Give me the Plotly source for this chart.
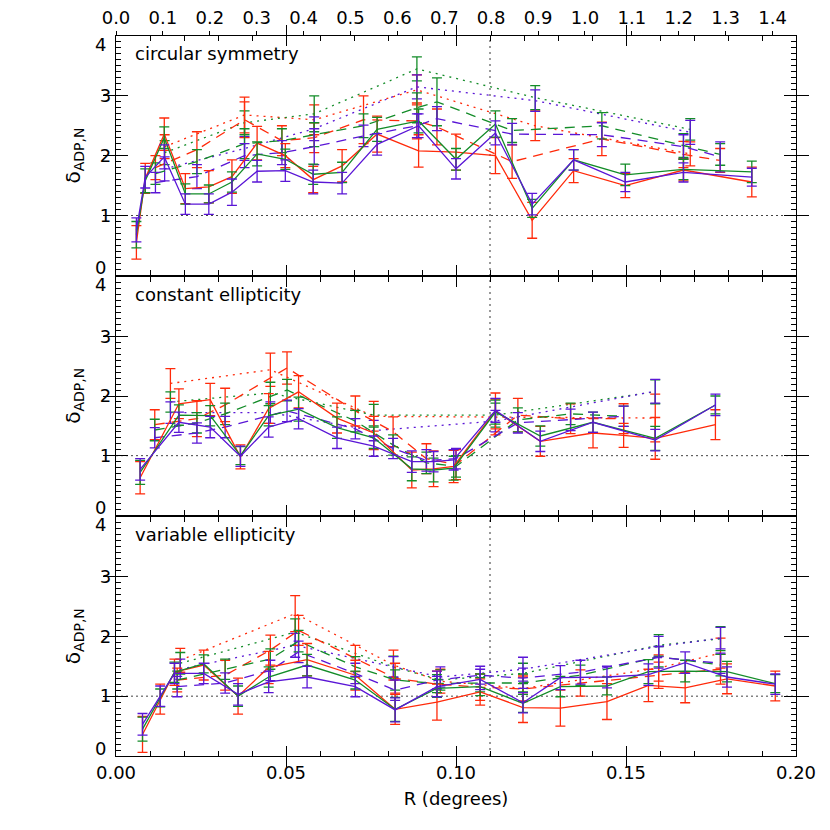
import plotly.graph_objects as go

# kpc per degree (top axis)
KPC_PER_DEG = 7.25

# ---- circular symmetry (top panel) ----
CS_X_SOLID = [0.0060, 0.0086, 0.0142, 0.0204, 0.0273, 0.0341, 0.0415, 0.0498, 0.0580, 0.0665,
              0.0768, 0.0890, 0.1000, 0.1116, 0.1224, 0.1346, 0.1498, 0.1669, 0.1870]
CS_RED_SOLID = [0.55, 1.62, 2.36, 1.45, 1.48, 1.65, 2.21, 2.00, 1.60, 1.83, 2.36, 2.08, 2.06, 2.00, 0.92, 1.75, 1.50, 1.76, 1.56]
CS_GREEN_SOLID = [0.68, 1.58, 2.30, 1.36, 1.36, 1.56, 2.03, 1.94, 1.69, 1.72, 2.44, 2.58, 1.94, 2.53, 1.12, 1.93, 1.68, 1.77, 1.73]
CS_BLUE_SOLID = [0.76, 1.64, 1.98, 1.19, 1.19, 1.39, 1.74, 1.75, 1.56, 1.54, 2.19, 2.50, 1.78, 2.38, 1.19, 1.93, 1.56, 1.72, 1.64]
CS_RED_SOLID_ERR = [0.28, 0.25, 0.27, 0.25, 0.27, 0.28, 0.28, 0.20, 0.22, 0.27, 0.30, 0.27, 0.30, 0.30, 0.30, 0.20, 0.20, 0.18, 0.25]
CS_GREEN_SOLID_ERR = [0.22, 0.20, 0.18, 0.17, 0.15, 0.17, 0.20, 0.17, 0.17, 0.17, 0.20, 0.20, 0.18, 0.22, 0.15, 0.17, 0.18, 0.17, 0.18]
CS_BLUE_SOLID_ERR = [0.20, 0.18, 0.20, 0.17, 0.17, 0.22, 0.18, 0.18, 0.20, 0.18, 0.18, 0.20, 0.17, 0.20, 0.18, 0.17, 0.16, 0.16, 0.15]

CS_X_DASH = [0.0116, 0.0238, 0.0378, 0.0488, 0.0583, 0.0728, 0.0885, 0.0944, 0.1165, 0.1429, 0.1669, 0.1777]
CS_RED_DASH = [1.80, 2.10, 2.60, 2.25, 2.30, 2.60, 2.58, 2.48, 1.90, 2.28, 2.02, 1.92]
CS_GREEN_DASH = [1.70, 1.90, 2.20, 2.25, 2.35, 2.50, 2.80, 2.90, 2.42, 2.50, 2.17, 2.02]
CS_BLUE_DASH = [1.55, 1.65, 2.00, 2.05, 2.15, 2.33, 2.50, 2.62, 2.36, 2.35, 2.15, 1.98]
CS_RED_DASH_ERR = [0.20, 0.30, 0.30, 0.25, 0.25, 0.40, 0.30, 0.30, 0.28, 0.28, 0.22, 0.20]
CS_GREEN_DASH_ERR = [0.18, 0.20, 0.25, 0.20, 0.20, 0.20, 0.25, 0.40, 0.20, 0.22, 0.20, 0.18]
CS_BLUE_DASH_ERR = [0.17, 0.20, 0.20, 0.20, 0.30, 0.18, 0.20, 0.20, 0.18, 0.20, 0.20, 0.25]

CS_X_DOT = [0.0143, 0.0378, 0.0583, 0.0885, 0.1233, 0.1689]
CS_RED_DOT = [2.15, 2.68, 2.60, 3.10, 2.50, 2.03]
CS_GREEN_DOT = [2.05, 2.55, 2.70, 3.45, 2.97, 2.44]
CS_BLUE_DOT = [1.78, 2.12, 2.45, 3.15, 2.92, 2.39]
CS_RED_DOT_ERR = [0.20, 0.30, 0.25, 0.25, 0.25, 0.20]
CS_GREEN_DOT_ERR = [0.20, 0.20, 0.30, 0.20, 0.20, 0.18]
CS_BLUE_DOT_ERR = [0.20, 0.20, 0.20, 0.20, 0.18, 0.20]

# ---- constant ellipticity (middle panel) ----
CE_X_SOLID = [0.0071, 0.0185, 0.0277, 0.0366, 0.0449, 0.0537, 0.0650, 0.0758, 0.0870, 0.0934,
              0.0993, 0.1116, 0.1248, 0.1403, 0.1493, 0.1586, 0.1763]
CE_RED_SOLID = [0.63, 1.87, 1.94, 0.98, 1.79, 2.07, 1.63, 1.38, 0.76, 0.78, 0.82, 1.75, 1.24, 1.38, 1.34, 1.29, 1.52]
CE_GREEN_SOLID = [0.72, 1.68, 1.67, 1.00, 1.67, 1.78, 1.47, 1.30, 0.78, 0.76, 0.79, 1.73, 1.33, 1.56, None, 1.29, 1.85]
CE_BLUE_SOLID = [0.77, 1.56, 1.48, 0.99, 1.48, 1.62, 1.30, 1.16, 0.90, 0.90, 0.93, 1.76, 1.24, 1.56, None, 1.26, 1.85]
CE_RED_SOLID_ERR = [0.27, 0.25, 0.27, 0.20, 0.25, 0.27, 0.25, 0.28, 0.30, 0.30, 0.27, 0.30, 0.25, 0.25, 0.20, 0.35, 0.25]
CE_GREEN_SOLID_ERR = [0.20, 0.17, 0.17, 0.15, 0.17, 0.20, 0.18, 0.18, 0.20, 0.20, 0.20, 0.20, 0.17, 0.17, None, 0.20, 0.15]
CE_BLUE_SOLID_ERR = [0.18, 0.17, 0.18, 0.17, 0.17, 0.17, 0.18, 0.17, 0.18, 0.17, 0.17, 0.20, 0.17, 0.17, None, 0.18, 0.18]

CE_X_DASH = [0.0114, 0.0238, 0.0321, 0.0503, 0.0704, 0.0815, 0.0913, 0.1000, 0.1182, 0.1337, 0.1493]
CE_RED_DASH = [1.52, 1.62, 1.85, 2.47, 1.75, 1.40, 0.95, 0.85, 1.68, 1.62, 1.62]
CE_GREEN_DASH = [1.43, 1.55, 1.70, 2.10, 1.58, 1.18, 0.88, 0.82, 1.60, 1.70, 1.66]
CE_BLUE_DASH = [1.30, 1.38, 1.48, 1.75, 1.45, 1.12, 0.92, 0.95, 1.55, 1.60, 1.66]
CE_RED_DASH_ERR = [0.25, 0.30, 0.28, 0.27, 0.25, 0.25, 0.25, 0.25, 0.28, 0.25, 0.25]
CE_GREEN_DASH_ERR = [0.18, 0.17, 0.18, 0.18, 0.18, 0.17, 0.18, 0.18, 0.20, 0.18, 0.17]
CE_BLUE_DASH_ERR = [0.17, 0.17, 0.18, 0.18, 0.17, 0.17, 0.18, 0.17, 0.17, 0.18, 0.17]

CE_X_DOT = [0.0160, 0.0454, 0.0758, 0.1116, 0.1586]
CE_RED_DOT = [2.21, 2.44, 1.66, 1.65, 1.63]
CE_GREEN_DOT = [1.90, 2.05, 1.68, 1.68, 2.07]
CE_BLUE_DOT = [1.72, 1.72, 1.42, 1.58, 2.08]
CE_RED_DOT_ERR = [0.25, 0.28, 0.25, 0.30, 0.40]
CE_GREEN_DOT_ERR = [0.17, 0.18, 0.18, 0.20, 0.20]
CE_BLUE_DOT_ERR = [0.18, 0.18, 0.17, 0.18, 0.20]

# ---- variable ellipticity (bottom panel) ----
VE_X_SOLID = [0.0078, 0.0130, 0.0172, 0.0258, 0.0359, 0.0449, 0.0562, 0.0704, 0.0821, 0.0944,
              0.1071, 0.1197, 0.1307, 0.1444, 0.1566, 0.1674, 0.1797, 0.1939]
VE_RED_SOLID = [0.36, 0.95, 1.40, 1.52, 1.00, 1.48, 1.61, 1.35, 0.78, 0.90, 1.07, 0.81, 0.80, 0.91, 1.18, 1.14, 1.29, 1.17]
VE_GREEN_SOLID = [0.45, 0.97, 1.40, 1.54, 1.00, 1.32, 1.52, 1.27, 0.78, 1.13, 1.16, 0.88, 1.16, 1.17, 1.41, 1.42, 1.41, 1.21]
VE_BLUE_SOLID = [0.53, 1.00, 1.38, 1.38, 1.03, 1.24, 1.32, 1.16, 0.77, 1.16, 1.28, 0.89, 1.31, 1.32, 1.36, 1.56, 1.32, 1.20]
VE_RED_SOLID_ERR = [0.30, 0.25, 0.22, 0.25, 0.30, 0.27, 0.27, 0.25, 0.25, 0.30, 0.22, 0.25, 0.30, 0.30, 0.27, 0.25, 0.25, 0.25]
VE_GREEN_SOLID_ERR = [0.20, 0.15, 0.17, 0.15, 0.17, 0.17, 0.18, 0.15, 0.20, 0.15, 0.15, 0.15, 0.17, 0.15, 0.20, 0.18, 0.17, 0.15]
VE_BLUE_SOLID_ERR = [0.18, 0.17, 0.17, 0.17, 0.18, 0.18, 0.18, 0.17, 0.20, 0.17, 0.17, 0.17, 0.20, 0.18, 0.18, 0.18, 0.17, 0.17]

VE_X_DASH = [0.0180, 0.0321, 0.0454, 0.0537, 0.0704, 0.0821, 0.0944, 0.1071, 0.1197, 0.1366, 0.1596, 0.1778]
VE_RED_DASH = [1.27, 1.35, 1.77, 2.10, 1.63, 1.30, 1.20, 1.15, 1.12, 1.22, 1.35, 1.45]
VE_GREEN_DASH = [1.27, 1.45, 1.62, 1.92, 1.49, 1.27, 1.21, 1.22, 1.22, 1.35, 1.66, 1.52]
VE_BLUE_DASH = [1.16, 1.22, 1.43, 1.74, 1.38, 1.10, 1.27, 1.35, 1.30, 1.40, 1.65, 1.55]
VE_RED_DASH_ERR = [0.20, 0.25, 0.25, 0.25, 0.22, 0.25, 0.22, 0.22, 0.20, 0.22, 0.22, 0.25]
VE_GREEN_DASH_ERR = [0.15, 0.17, 0.17, 0.18, 0.17, 0.17, 0.15, 0.15, 0.15, 0.17, 0.17, 0.18]
VE_BLUE_DASH_ERR = [0.17, 0.17, 0.17, 0.18, 0.17, 0.17, 0.15, 0.15, 0.17, 0.20, 0.18, 0.17]

VE_X_DOT = [0.0189, 0.0527, 0.0816, 0.0954, 0.1197, 0.1596, 0.1778]
VE_RED_DOT = [1.60, 2.38, 1.52, 1.25, 1.13, 1.47, 1.72]
VE_GREEN_DOT = [1.55, 2.07, 1.49, 1.27, 1.38, 1.85, 1.96]
VE_BLUE_DOT = [1.45, 1.85, 1.49, 1.32, 1.45, 1.83, 1.97]
VE_RED_DOT_ERR = [0.20, 0.30, 0.25, 0.20, 0.22, 0.22, 0.25]
VE_GREEN_DOT_ERR = [0.18, 0.22, 0.18, 0.17, 0.17, 0.18, 0.20]
VE_BLUE_DOT_ERR = [0.17, 0.20, 0.17, 0.17, 0.20, 0.17, 0.18]

PANEL_TITLES = ["circular symmetry", "constant ellipticity", "variable ellipticity"]
Y_TICKS = [0, 1, 2, 3, 4]
X_KPC_TICKS = [0.0, 0.1, 0.2, 0.3, 0.4, 0.5, 0.6, 0.7, 0.8, 0.9, 1.0, 1.1, 1.2, 1.3, 1.4]

RED = "#ff2a0a"
GREEN = "#138c28"
BLUE = "#5a16d6"
FONT = "DejaVu Sans"
SOLID, DASH, DOT = "solid", "10px,7px", "2px,5px"
LW = 1.3          # axis line width
GAP = LW / 720    # tiny gap so adjacent panel borders fall on one line

fig = go.Figure()


def add_series(xa, ya, xs, ys, errs, color, dash):
    fig.add_trace(go.Scatter(
        x=xs, y=ys, xaxis=xa, yaxis=ya, mode="lines", connectgaps=True,
        line=dict(color=color, width=1.3, dash=dash),
        error_y=dict(type="data", array=errs, visible=True, color=color,
                     thickness=1.3, width=5),
        showlegend=False, hoverinfo="skip"))


def add_axis_holder(xa, ya):
    # empty trace so that an overlay axis gets drawn
    fig.add_trace(go.Scatter(x=[None], y=[None], xaxis=xa, yaxis=ya, mode="lines",
                             showlegend=False, hoverinfo="skip"))


panels = [
    ("x3", "y3", [(CS_X_DOT, CS_RED_DOT, CS_RED_DOT_ERR, RED, DOT),
                  (CS_X_DOT, CS_GREEN_DOT, CS_GREEN_DOT_ERR, GREEN, DOT),
                  (CS_X_DOT, CS_BLUE_DOT, CS_BLUE_DOT_ERR, BLUE, DOT),
                  (CS_X_DASH, CS_RED_DASH, CS_RED_DASH_ERR, RED, DASH),
                  (CS_X_DASH, CS_GREEN_DASH, CS_GREEN_DASH_ERR, GREEN, DASH),
                  (CS_X_DASH, CS_BLUE_DASH, CS_BLUE_DASH_ERR, BLUE, DASH),
                  (CS_X_SOLID, CS_RED_SOLID, CS_RED_SOLID_ERR, RED, SOLID),
                  (CS_X_SOLID, CS_GREEN_SOLID, CS_GREEN_SOLID_ERR, GREEN, SOLID),
                  (CS_X_SOLID, CS_BLUE_SOLID, CS_BLUE_SOLID_ERR, BLUE, SOLID)]),
    ("x2", "y2", [(CE_X_DOT, CE_RED_DOT, CE_RED_DOT_ERR, RED, DOT),
                  (CE_X_DOT, CE_GREEN_DOT, CE_GREEN_DOT_ERR, GREEN, DOT),
                  (CE_X_DOT, CE_BLUE_DOT, CE_BLUE_DOT_ERR, BLUE, DOT),
                  (CE_X_DASH, CE_RED_DASH, CE_RED_DASH_ERR, RED, DASH),
                  (CE_X_DASH, CE_GREEN_DASH, CE_GREEN_DASH_ERR, GREEN, DASH),
                  (CE_X_DASH, CE_BLUE_DASH, CE_BLUE_DASH_ERR, BLUE, DASH),
                  (CE_X_SOLID, CE_RED_SOLID, CE_RED_SOLID_ERR, RED, SOLID),
                  (CE_X_SOLID, CE_GREEN_SOLID, CE_GREEN_SOLID_ERR, GREEN, SOLID),
                  (CE_X_SOLID, CE_BLUE_SOLID, CE_BLUE_SOLID_ERR, BLUE, SOLID)]),
    ("x", "y", [(VE_X_DOT, VE_RED_DOT, VE_RED_DOT_ERR, RED, DOT),
                (VE_X_DOT, VE_GREEN_DOT, VE_GREEN_DOT_ERR, GREEN, DOT),
                (VE_X_DOT, VE_BLUE_DOT, VE_BLUE_DOT_ERR, BLUE, DOT),
                (VE_X_DASH, VE_RED_DASH, VE_RED_DASH_ERR, RED, DASH),
                (VE_X_DASH, VE_GREEN_DASH, VE_GREEN_DASH_ERR, GREEN, DASH),
                (VE_X_DASH, VE_BLUE_DASH, VE_BLUE_DASH_ERR, BLUE, DASH),
                (VE_X_SOLID, VE_RED_SOLID, VE_RED_SOLID_ERR, RED, SOLID),
                (VE_X_SOLID, VE_GREEN_SOLID, VE_GREEN_SOLID_ERR, GREEN, SOLID),
                (VE_X_SOLID, VE_BLUE_SOLID, VE_BLUE_SOLID_ERR, BLUE, SOLID)]),
]

label_font = dict(family=FONT, size=18, color="black")
shapes = []
annotations = []
for (xa, ya, series), title in zip(panels, PANEL_TITLES):
    for xs, ys, errs, color, dash in series:
        add_series(xa, ya, xs, ys, errs, color, dash)
    shapes.append(dict(type="line", xref="x", yref=ya, x0=0, x1=0.2, y0=1, y1=1,
                       layer="below", line=dict(color="#444", width=1, dash="2px,3px")))
    annotations.append(dict(text=title, xref="x", yref=ya, x=0.005, y=3.7,
                            xanchor="left", yanchor="middle", showarrow=False, font=label_font))
    # end labels offset like the original axes so they don't collide at panel joins
    annotations.append(dict(text=str(Y_TICKS[0]), xref="paper", yref=ya, x=-0.012, y=Y_TICKS[0],
                            xanchor="right", yanchor="middle", yshift=8, showarrow=False,
                            font=label_font))
    annotations.append(dict(text=str(Y_TICKS[-1]), xref="paper", yref=ya, x=-0.012, y=Y_TICKS[-1],
                            xanchor="right", yanchor="middle", yshift=-8, showarrow=False,
                            font=label_font))
    annotations.append(dict(text="δ<sub>ADP,N</sub>", xref="paper", yref=ya, x=-0.062, y=2.0,
                            xanchor="center", yanchor="middle", textangle=-90, showarrow=False,
                            font=dict(family=FONT, size=20, color="black")))

shapes.append(dict(type="line", xref="x", yref="paper", x0=0.11, x1=0.11, y0=0, y1=1,
                   layer="below", line=dict(color="#999", width=2, dash="2px,4px")))

# top axis title sits mostly above the page edge, as in the original
annotations.append(dict(text="R (kpc)", xref="paper", yref="paper", x=0.5, y=1.0375,
                        xanchor="center", yanchor="bottom", showarrow=False, font=label_font))

# top (kpc) axis and minor-tick overlay axes
add_axis_holder("x4", "y3")
for xa, ya in [("x5", "y"), ("x6", "y2"), ("x7", "y3"), ("x", "y4"), ("x2", "y5"), ("x3", "y6")]:
    add_axis_holder(xa, ya)

yaxis_common = dict(
    range=[0, 4], tickvals=Y_TICKS, ticktext=["", "1", "2", "3", ""],
    ticks="inside", ticklen=12, tickwidth=1.3, tickcolor="black",
    showline=True, linecolor="black", linewidth=LW, mirror="allticks",
    showgrid=False, zeroline=False, tickfont=label_font, automargin=False,
)
yminor = dict(
    range=[0, 4], tickmode="linear", tick0=0, dtick=0.1, ticks="inside", ticklen=5,
    tickwidth=1.1, tickcolor="black", showticklabels=False,
    showline=True, linecolor="black", linewidth=LW, mirror="allticks",
    showgrid=False, zeroline=False, automargin=False,
)
xaxis_common = dict(
    range=[0, 0.2], tickmode="linear", tick0=0, dtick=0.05, ticks="inside", ticklen=10,
    tickwidth=1.3, tickcolor="black",
    showline=True, linecolor="black", linewidth=LW, mirror="allticks",
    showgrid=False, zeroline=False, tickfont=label_font, automargin=False,
)
xminor = dict(
    range=[0, 0.2], tickmode="linear", tick0=0, dtick=0.01, ticks="inside", ticklen=5,
    tickwidth=1.1, tickcolor="black", showticklabels=False,
    showline=True, linecolor="black", linewidth=LW, mirror="allticks",
    showgrid=False, zeroline=False, automargin=False,
)

fig.update_layout(
    width=822, height=822,
    margin=dict(l=108, r=34, t=28, b=74, autoexpand=False),
    paper_bgcolor="white", plot_bgcolor="white",
    font=dict(family=FONT, size=18, color="black"),
    showlegend=False,
    xaxis=dict(xaxis_common, anchor="y", domain=[0, 1], tickformat=".2f",
               title=dict(text="R (degrees)", font=label_font, standoff=10)),
    xaxis2=dict(xaxis_common, anchor="y2", domain=[0, 1], matches="x", showticklabels=False),
    xaxis3=dict(xaxis_common, anchor="y3", domain=[0, 1], matches="x", showticklabels=False),
    xaxis4=dict(overlaying="x3", anchor="y3", side="top", domain=[0, 1],
                range=[0, 0.2 * KPC_PER_DEG], tickmode="array", tickvals=X_KPC_TICKS,
                tickformat=".1f", ticks="outside", ticklen=4, tickwidth=1.2, tickcolor="black",
                showline=False, showgrid=False, zeroline=False, tickfont=label_font,
                automargin=False),
    xaxis5=dict(xminor, overlaying="x", anchor="y"),
    xaxis6=dict(xminor, overlaying="x2", anchor="y2"),
    xaxis7=dict(xminor, overlaying="x3", anchor="y3"),
    yaxis=dict(yaxis_common, anchor="x", domain=[0, 1 / 3 - GAP / 2]),
    yaxis2=dict(yaxis_common, anchor="x2", domain=[1 / 3 + GAP / 2, 2 / 3 - GAP / 2]),
    yaxis3=dict(yaxis_common, anchor="x3", domain=[2 / 3 + GAP / 2, 1]),
    yaxis4=dict(yminor, overlaying="y", anchor="x"),
    yaxis5=dict(yminor, overlaying="y2", anchor="x2"),
    yaxis6=dict(yminor, overlaying="y3", anchor="x3"),
    shapes=shapes,
    annotations=annotations,
)

fig.write_html("out.html")
